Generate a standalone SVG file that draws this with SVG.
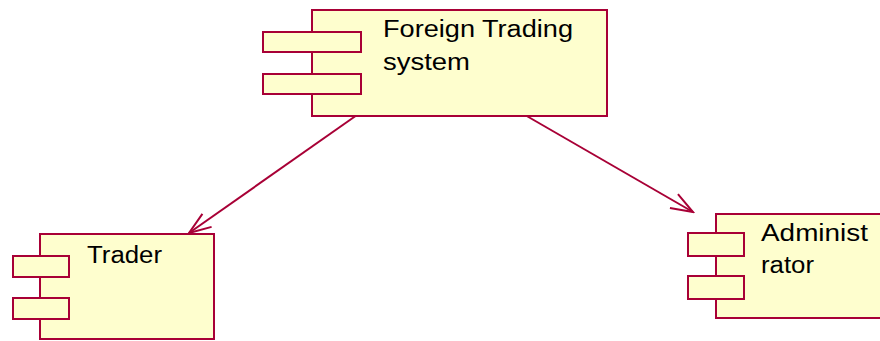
<svg xmlns="http://www.w3.org/2000/svg" width="880" height="341" viewBox="0 0 880 341">
<defs>
<style>
.box{fill:#FEFECE;stroke:#A80036;stroke-width:2}
.lbl{font-family:"Liberation Sans",Arial,sans-serif;font-size:23px;fill:#000}
.edge{fill:none;stroke:#A80036;stroke-width:2}
</style>
<marker id="open" viewBox="-25 -12 27 24" markerWidth="27" markerHeight="24" refX="0" refY="0" orient="auto" markerUnits="userSpaceOnUse">
<path d="M-22,-8 L0,0 L-22,8" fill="none" stroke="#A80036" stroke-width="2"/>
</marker>
</defs>
<rect width="880" height="341" fill="#fff"/>
<g id="edges">
<line class="edge" x1="357" y1="115" x2="189" y2="233" marker-end="url(#open)"/>
<line class="edge" x1="525" y1="115" x2="693" y2="212" marker-end="url(#open)"/>
</g>
<g id="foreign-trading-system">
<rect class="box" x="312" y="10" width="295" height="106"/>
<rect class="box" x="263" y="32" width="98" height="20"/>
<rect class="box" x="263" y="74" width="98" height="20"/>
<text class="lbl" x="383" y="37" textLength="190" lengthAdjust="spacingAndGlyphs">Foreign Trading</text>
<text class="lbl" x="383" y="70" textLength="87" lengthAdjust="spacingAndGlyphs">system</text>
</g>
<g id="trader">
<rect class="box" x="40" y="234" width="174" height="105"/>
<rect class="box" x="13" y="256" width="56" height="21"/>
<rect class="box" x="13" y="298" width="56" height="21"/>
<text class="lbl" x="87" y="263" textLength="75" lengthAdjust="spacingAndGlyphs">Trader</text>
</g>
<g id="administrator">
<rect class="box" x="716" y="214" width="180" height="104"/>
<rect class="box" x="688" y="233" width="56" height="23"/>
<rect class="box" x="688" y="276" width="56" height="23"/>
<text class="lbl" x="761" y="241" textLength="107" lengthAdjust="spacingAndGlyphs">Administ</text>
<text class="lbl" x="761" y="273" textLength="53" lengthAdjust="spacingAndGlyphs">rator</text>
</g>
</svg>
